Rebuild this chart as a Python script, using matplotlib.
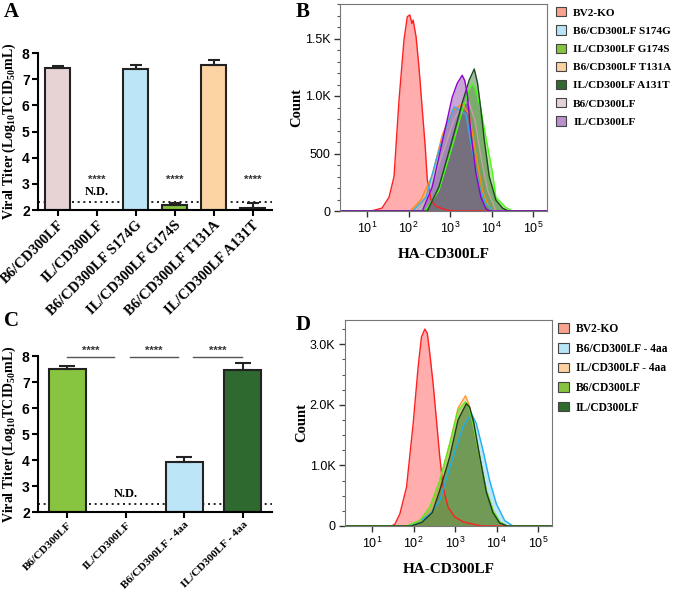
import matplotlib
matplotlib.use('Agg')
import matplotlib.pyplot as plt
from matplotlib.patches import Patch
from matplotlib.ticker import MultipleLocator
import numpy as np

plt.rcParams['mathtext.fontset'] = 'custom'
plt.rcParams['mathtext.rm'] = 'Liberation Serif:bold'
plt.rcParams['mathtext.bf'] = 'Liberation Serif:bold'
plt.rcParams['mathtext.it'] = 'Liberation Serif:bold:italic'

SERIF = 'Liberation Serif'
SANS = 'Liberation Sans'

# ---- panel A: viral titer, point mutants
a_labels = ['B6/CD300LF', 'IL/CD300LF', 'B6/CD300LF S174G', 'IL/CD300LF G174S',
            'B6/CD300LF T131A', 'IL/CD300LF A131T']
a_titer = [7.42, np.nan, 7.38, 2.18, 7.55, 2.07]
a_err = [0.07, 0.0, 0.17, 0.10, 0.20, 0.20]
a_colors = ['#e8d3d4', '#ffffff', '#bde5f8', '#84c440', '#fcd3a2', '#2e6b30']
a_star_idx = [1, 3, 5]

# ---- panel C: viral titer, 4aa swaps
c_labels = ['B6/CD300LF', 'IL/CD300LF', 'B6/CD300LF - 4aa', 'IL/CD300LF - 4aa']
c_titer = [7.50, np.nan, 3.93, 7.47]
c_err = [0.10, 0.0, 0.20, 0.25]
c_colors = ['#87c43f', '#ffffff', '#bde5f8', '#2e6930']

limit_of_detection = 2.3

# ---- panel B: flow histograms (x = log10 HA-CD300LF, y = count)
b_names = ['BV2-KO', 'B6/CD300LF S174G', 'IL/CD300LF G174S', 'B6/CD300LF T131A',
           'IL/CD300LF A131T', 'B6/CD300LF', 'IL/CD300LF']
b_bv2_x = [0.35, 1.10, 1.36, 1.53, 1.65, 1.77, 1.89, 1.97, 2.03, 2.08, 2.11, 2.18,
           2.25, 2.33, 2.40, 2.45, 2.54, 2.66, 2.90, 3.10, 5.33]
b_bv2_y = [0, 0, 25, 120, 300, 965, 1490, 1690, 1705, 1630, 1660, 1515,
           1250, 880, 560, 270, 95, 40, 10, 0, 0]
b_s174g_x = [0.35, 2.10, 2.42, 2.66, 2.90, 3.10, 3.26, 3.38, 3.53, 3.70, 3.86, 4.05, 5.33]
b_s174g_y = [0, 0, 120, 440, 730, 905, 870, 840, 530, 210, 60, 0, 0]
b_g174s_x = [0.35, 2.40, 2.73, 3.05, 3.29, 3.46, 3.54, 3.62, 3.74, 3.86, 4.02, 4.10, 4.34, 4.50, 5.33]
b_g174s_y = [0, 0, 180, 560, 870, 1060, 1110, 1050, 880, 640, 330, 120, 30, 0, 0]
b_t131a_x = [0.35, 2.05, 2.30, 2.57, 2.81, 3.05, 3.29, 3.46, 3.62, 3.78, 3.94, 4.10, 5.33]
b_t131a_y = [0, 0, 100, 310, 660, 870, 930, 840, 490, 170, 30, 0, 0]
b_a131t_x = [0.35, 2.45, 2.73, 3.05, 3.29, 3.46, 3.58, 3.66, 3.74, 3.82, 3.94, 4.10, 4.26, 4.40, 5.33]
b_a131t_y = [0, 0, 210, 620, 940, 1140, 1235, 1110, 880, 620, 300, 95, 25, 0, 0]
b_b6_x = [0.35, 2.20, 2.50, 2.80, 3.10, 3.30, 3.45, 3.60, 3.75, 3.90, 4.10, 5.33]
b_b6_y = [0, 0, 150, 480, 800, 930, 950, 780, 450, 180, 0, 0]
b_il_x = [0.35, 2.33, 2.57, 2.73, 2.89, 3.05, 3.17, 3.29, 3.35, 3.41, 3.50, 3.62, 3.74, 3.86, 3.95, 5.33]
b_il_y = [0, 0, 210, 470, 730, 990, 1110, 1180, 1135, 1025, 675, 330, 120, 20, 0, 0]

# ---- panel D: flow histograms
d_names = ['BV2-KO', 'B6/CD300LF - 4aa', 'IL/CD300LF - 4aa', 'B6/CD300LF', 'IL/CD300LF']
d_bv2_x = [0.35, 1.47, 1.55, 1.67, 1.83, 1.99, 2.11, 2.19, 2.27, 2.33, 2.39, 2.47,
           2.55, 2.63, 2.71, 2.83, 2.99, 3.19, 3.43, 3.65, 5.33]
d_bv2_y = [0, 0, 30, 200, 640, 1690, 2630, 3120, 3250, 3180, 2850, 2350,
           1750, 1140, 640, 310, 150, 70, 30, 0, 0]
d_b6aa_x = [0.35, 1.90, 2.15, 2.40, 2.63, 2.95, 3.19, 3.39, 3.51, 3.67, 3.83, 3.99, 4.19, 4.39, 5.33]
d_b6aa_y = [0, 0, 80, 200, 420, 1140, 1640, 1860, 1690, 1250, 750, 370, 90, 0, 0]
d_ilaa_x = [0.35, 1.83, 2.15, 2.39, 2.63, 2.87, 3.07, 3.25, 3.33, 3.43, 3.59, 3.75, 3.91, 4.07, 4.25, 5.33]
d_ilaa_y = [0, 0, 90, 310, 750, 1360, 1950, 2150, 2010, 1690, 1140, 590, 260, 70, 0, 0]
d_b6_x = [0.35, 1.83, 2.15, 2.39, 2.63, 2.87, 3.07, 3.25, 3.33, 3.43, 3.59, 3.75, 3.91, 4.07, 4.25, 5.33]
d_b6_y = [0, 0, 90, 310, 750, 1360, 1910, 2050, 1970, 1690, 1140, 590, 260, 70, 0, 0]
d_il_x = [0.35, 1.95, 2.20, 2.45, 2.63, 2.87, 3.07, 3.27, 3.35, 3.45, 3.59, 3.75, 3.91, 4.07, 4.25, 5.33]
d_il_y = [0, 0, 60, 220, 590, 1140, 1750, 2020, 1960, 1700, 1150, 560, 220, 50, 0, 0]

# fill colour, line colour, legend swatch
STY = {
    'BV2-KO': ('#ff4a4a', '#ff2020', '#f7a38e'),
    'B6/CD300LF S174G': ('#6cc6ee', '#2fb0e8', '#b9e3f7'),
    'IL/CD300LF G174S': ('#6cc030', '#44ff10', '#86c440'),
    'B6/CD300LF T131A': ('#ffae60', '#ff8a10', '#fdd09f'),
    'IL/CD300LF A131T': ('#2e6b2e', '#1c4a1c', '#2f6a2f'),
    'B6/CD300LF': ('#d7b5bb', '#c7a0a8', '#e6d2d4'),
    'IL/CD300LF': ('#8a3aa8', '#9000d0', '#b990cc'),
}
D_STY = {
    'BV2-KO': ('#ff4a4a', '#ff2020', '#f7a38e'),
    'B6/CD300LF - 4aa': ('#6cc6ee', '#1ab0f0', '#b9e3f7'),
    'IL/CD300LF - 4aa': ('#ffae60', '#ff9a30', '#fdd09f'),
    'B6/CD300LF': ('#6cb830', '#55ee22', '#86c440'),
    'IL/CD300LF': ('#2e6b2e', '#1a3d1a', '#2f6a2f'),
}


def bar_panel(ax, labels, titer, err, colors, width, capsize, label_size):
    x = np.arange(len(labels))
    ax.axhline(limit_of_detection, color='black', ls=(0, (1.2, 2.2)), lw=1.2, zorder=1)
    for i in range(len(labels)):
        if np.isnan(titer[i]):
            continue
        ax.bar(x[i], titer[i] - 2, bottom=2, width=width, color=colors[i],
               edgecolor='#222222', lw=1.5, zorder=2)
        ax.errorbar(x[i], titer[i], yerr=[[0], [err[i]]], fmt='none', ecolor='#222222',
                    elinewidth=1.5, capsize=capsize, capthick=1.5, zorder=3)
    ax.set_xlim(-0.5, len(labels) - 0.5)
    ax.set_ylim(2, 8)
    ax.set_xticks(x)
    ax.set_xticklabels(labels, rotation=45, ha='right', rotation_mode='anchor',
                       family=SERIF, weight='bold', fontsize=label_size)
    ax.set_yticks(range(2, 9))
    for t in ax.get_yticklabels():
        t.set_family(SANS)
        t.set_weight('bold')
        t.set_fontsize(10)
    ax.tick_params(axis='both', width=1.5, length=4, direction='out', pad=2)
    for s in ['top', 'right']:
        ax.spines[s].set_visible(False)
    for s in ['left', 'bottom']:
        ax.spines[s].set_linewidth(1.5)
    ax.set_ylabel('Viral Titer (Log$_{10}$TCID$_{50}$mL)', family=SERIF, weight='bold',
                  fontsize=10, labelpad=3)
    ax.text(1, 2.45, 'N.D.', ha='center', va='bottom', family=SERIF, weight='bold', fontsize=9)


def hist_panel(ax, curves, names, sty, ymax, yticks, ylabels, yminor):
    for (xs, ys), name in zip(curves, names):
        fill, line, _ = sty[name]
        xv = 10 ** np.array(xs)
        ax.fill_between(xv, ys, color=fill, alpha=0.45, lw=0)
        ax.plot(xv, ys, color=line, lw=1.0)
    ax.set_xscale('log')
    ax.set_xlim(10 ** 0.35, 10 ** 5.33)
    ax.set_ylim(0, ymax)
    ax.set_xticks([10, 100, 1000, 10000, 100000])
    ax.set_yticks(yticks)
    ax.set_yticklabels(ylabels)
    ax.yaxis.set_minor_locator(MultipleLocator(yminor))
    for t in ax.get_xticklabels() + ax.get_yticklabels():
        t.set_family(SANS)
        t.set_fontsize(9)
    ax.tick_params(axis='both', which='major', length=4, width=1, color='#333333', pad=3)
    ax.tick_params(axis='both', which='minor', length=2, width=0.8, color='#555555')
    for s in ax.spines.values():
        s.set_color('#777777')
        s.set_linewidth(0.8)
    ax.set_ylabel('Count', family=SERIF, weight='bold', fontsize=10.5, labelpad=1)
    ax.set_xlabel('HA-CD300LF', family=SERIF, weight='bold', fontsize=11, labelpad=9)


fig = plt.figure(figsize=(6.75, 5.95), dpi=100)
W, H = 675.0, 595.0


def box(x0, y0, x1, y1):
    return [x0 / W, 1 - y1 / H, (x1 - x0) / W, (y1 - y0) / H]


# A
axA = fig.add_axes(box(38, 53, 272, 210))
bar_panel(axA, a_labels, a_titer, a_err, a_colors, 0.66, 4.5, 10.5)
for i in a_star_idx:
    axA.text(i, 2.98, '****', ha='center', va='bottom', family=SANS, weight='bold',
             fontsize=8, color='#333333')

# C
axC = fig.add_axes(box(38, 356, 272, 512))
bar_panel(axC, c_labels, c_titer, c_err, c_colors, 0.63, 6, 8.2)
sig_pairs = [(0.0, 0.8), (1.07, 1.9), (2.15, 2.98)]
for x0, x1 in sig_pairs:
    axC.plot([x0, x1], [7.97, 7.97], color='#555555', lw=1, clip_on=False)
    axC.text((x0 + x1) / 2, 8.02, '****', ha='center', va='bottom', family=SANS,
             weight='bold', fontsize=8, color='#333333')

# B
axB = fig.add_axes(box(340, 4, 547, 211))
b_curves = [(b_bv2_x, b_bv2_y), (b_b6_x, b_b6_y), (b_t131a_x, b_t131a_y),
            (b_s174g_x, b_s174g_y), (b_g174s_x, b_g174s_y), (b_a131t_x, b_a131t_y),
            (b_il_x, b_il_y)]
b_order = ['BV2-KO', 'B6/CD300LF', 'B6/CD300LF T131A', 'B6/CD300LF S174G',
           'IL/CD300LF G174S', 'IL/CD300LF A131T', 'IL/CD300LF']
hist_panel(axB, b_curves, b_order, STY, 1800, [0, 500, 1000, 1500],
           ['0', '500', '1.0K', '1.5K'], 100)
hB = [Patch(facecolor=STY[n][2], edgecolor='#444444', lw=0.8) for n in b_names]
axB.legend(hB, b_names, loc='upper left', bbox_to_anchor=(1.045, 0.985), frameon=False,
           prop=dict(family=SERIF, weight='bold', size=8.1), handlelength=0.9,
           handleheight=0.9, handletextpad=0.6, labelspacing=0.68, borderaxespad=0,
           borderpad=0)

# D
axD = fig.add_axes(box(345, 320, 552, 526))
d_curves = [(d_bv2_x, d_bv2_y), (d_b6aa_x, d_b6aa_y), (d_ilaa_x, d_ilaa_y),
            (d_b6_x, d_b6_y), (d_il_x, d_il_y)]
hist_panel(axD, d_curves, d_names, D_STY, 3400, [0, 1000, 2000, 3000],
           ['0', '1.0K', '2.0K', '3.0K'], 250)
hD = [Patch(facecolor=D_STY[n][2], edgecolor='#444444', lw=0.8) for n in d_names]
axD.legend(hD, d_names, loc='upper left', bbox_to_anchor=(1.03, 0.985), frameon=False,
           prop=dict(family=SERIF, weight='bold', size=8.3), handlelength=0.9,
           handleheight=0.9, handletextpad=0.6, labelspacing=0.66, borderaxespad=0,
           borderpad=0)

# panel letters
for letter, px, py in [('A', 4, 2), ('B', 296, 2), ('C', 4, 311), ('D', 296, 315)]:
    fig.text(px / W, 1 - py / H, letter, ha='left', va='top', family=SERIF,
             weight='bold', fontsize=15)

fig.savefig('out.png', dpi=100)
